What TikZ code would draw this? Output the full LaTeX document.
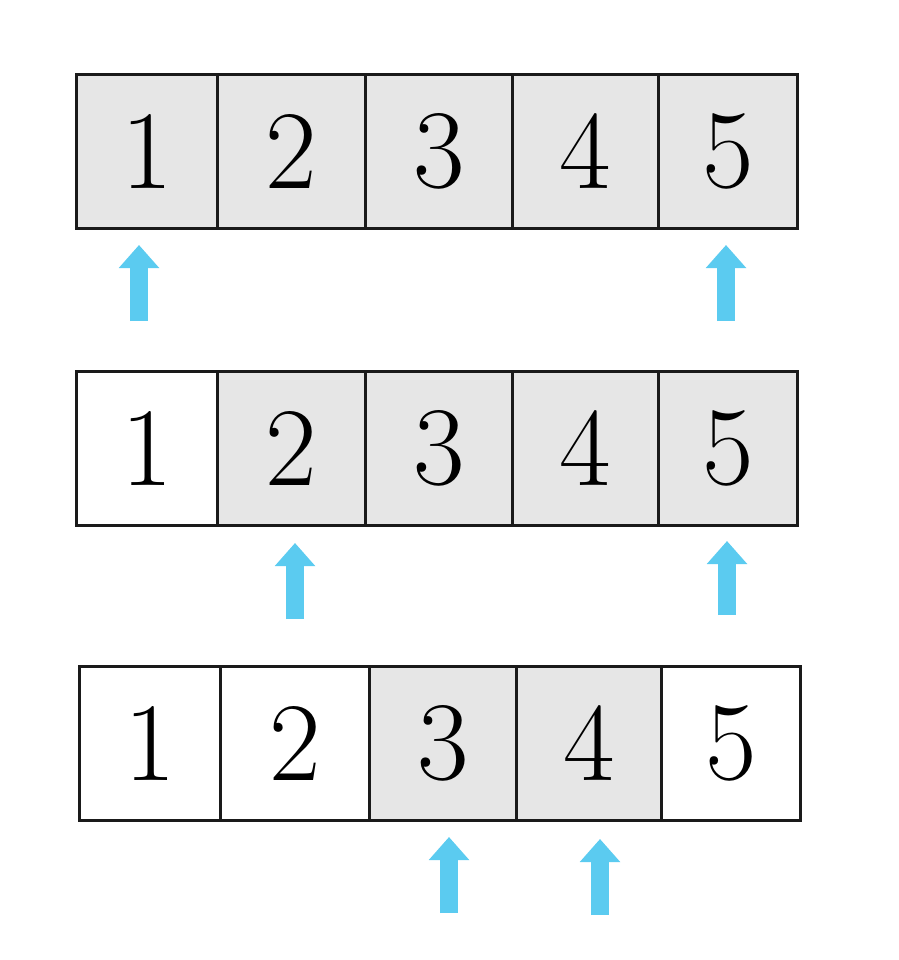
\documentclass[tikz,border=0pt]{standalone}
\usepackage{fontspec}
\usetikzlibrary{arrows.meta}
\definecolor{cellgray}{HTML}{E6E6E6}
\definecolor{arrowblue}{HTML}{5BCBF0}
\definecolor{edge}{HTML}{1A1A1A}
\begin{document}
\begin{tikzpicture}[x=1pt,y=-1pt,
  cell/.style={draw=edge,line width=2.8pt,minimum height=154pt,inner sep=0pt,anchor=north west,
    font=\fontsize{112}{112}\selectfont},
  on/.style={fill=cellgray},
  off/.style={fill=white},
  uparrow/.style={draw=arrowblue,line width=18pt,-{Triangle[width=39pt,length=23pt,fill=arrowblue]}}]
\useasboundingbox (0,0) rectangle (898,960);
\fill[white] (0,0) rectangle (898,960);
% row 1
\node[cell,on,minimum width=141pt] (a1) at (75,73) {1};
\node[cell,on,minimum width=148pt] (a2) at (216,73) {2};
\node[cell,on,minimum width=147pt] (a3) at (364,73) {3};
\node[cell,on,minimum width=146pt] (a4) at (511,73) {4};
\node[cell,on,minimum width=139pt] (a5) at (657,73) {5};
% row 2
\node[cell,off,minimum width=141pt] (b1) at (75,370) {1};
\node[cell,on,minimum width=148pt] (b2) at (216,370) {2};
\node[cell,on,minimum width=147pt] (b3) at (364,370) {3};
\node[cell,on,minimum width=146pt] (b4) at (511,370) {4};
\node[cell,on,minimum width=139pt] (b5) at (657,370) {5};
% row 3
\node[cell,off,minimum width=141pt] (c1) at (78,665) {1};
\node[cell,off,minimum width=149pt] (c2) at (219,665) {2};
\node[cell,on,minimum width=147pt] (c3) at (368,665) {3};
\node[cell,on,minimum width=145pt] (c4) at (515,665) {4};
\node[cell,off,minimum width=139pt] (c5) at (660,665) {5};
% arrows
\coordinate (pa1s) at (139,321); \coordinate (pa1t) at (139,245);
\coordinate (pa5s) at (726,321); \coordinate (pa5t) at (726,245);
\coordinate (pb2s) at (295,619); \coordinate (pb2t) at (295,543);
\coordinate (pb5s) at (727,615); \coordinate (pb5t) at (727,541);
\coordinate (pc3s) at (449,913); \coordinate (pc3t) at (449,837);
\coordinate (pc4s) at (600,915); \coordinate (pc4t) at (600,839);
\draw[uparrow] (pa1s) -- (pa1t);
\draw[uparrow] (pa5s) -- (pa5t);
\draw[uparrow] (pb2s) -- (pb2t);
\draw[uparrow] (pb5s) -- (pb5t);
\draw[uparrow] (pc3s) -- (pc3t);
\draw[uparrow] (pc4s) -- (pc4t);
\end{tikzpicture}
\end{document}
